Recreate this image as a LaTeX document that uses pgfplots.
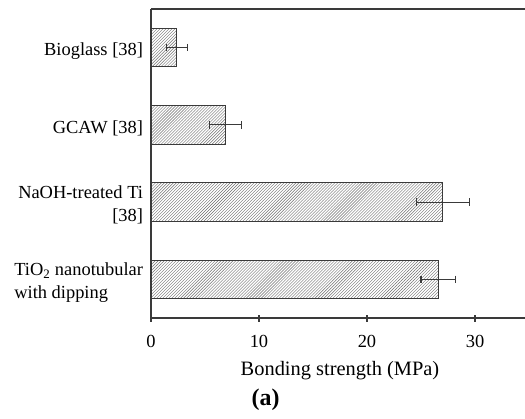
\documentclass[border=0pt]{standalone}
\usepackage{fontspec}
\setmainfont{Liberation Serif}
\usepackage{pgfplots}
\pgfplotsset{compat=1.18}
\usetikzlibrary{patterns}
\definecolor{axisgray}{HTML}{3A3A3A}
\definecolor{hatchgray}{HTML}{6E6E6E}

\begin{document}
\begin{tikzpicture}
\useasboundingbox (-151bp,-101bp) rectangle (374bp,318bp);
\begin{axis}[
    at={(0,0)}, anchor=south west,
    scale only axis,
    width=378bp, height=309bp,
    xbar,
    bar width=0.5,
    xmin=0, xmax=35,
    ymin=0.5, ymax=4.5,
    axis x line*=bottom,
    axis y line*=left,
    axis line style={axisgray, line width=1.6bp, -},
    xtick={0,10,20,30},
    ytick={1,2,3,4},
    yticklabels={
      {\begin{tabular}{@{}l@{}}TiO\textsubscript{2} nanotubular\\with dipping\end{tabular}},
      {\begin{tabular}{@{}r@{}}NaOH-treated Ti\\{[38]}\end{tabular}},
      {GCAW [38]},
      {Bioglass [38]}},
    tick align=center,
    major tick length=7bp,
    xtick style={axisgray, line width=1.2bp},
    ytick style={draw=none},
    /pgf/number format/assume math mode=true,
    tick label style={font=\fontsize{18.5}{23}\selectfont, black},
    xticklabel style={yshift=-10bp},
    yticklabel style={xshift=-1bp, yshift=-3bp},
    xlabel={Bonding strength (MPa)},
    xlabel style={font=\fontsize{20.5}{24}\selectfont, yshift=-7bp},
    clip=false,
]
\draw[axisgray, line width=1.6bp] (rel axis cs:0,1) -- (rel axis cs:1,1);
\addplot[draw=axisgray, line width=1.1bp,
    pattern=north east lines, pattern color=hatchgray,
    error bars/.cd, x dir=both, x explicit,
    error mark=|,
    error bar style={axisgray, line width=1.1bp},
    error mark options={axisgray, line width=1.1bp, mark size=3.8bp}]
coordinates {
    (26.6,1) +- (1.6,0)
    (27.0,2) +- (2.45,0)
    (6.9,3) +- (1.5,0)
    (2.4,4) +- (1.0,0)
};
\node[font=\bfseries\fontsize{24}{26}\selectfont] at (axis description cs:0.303,-0.265) {(a)};
\end{axis}
\end{tikzpicture}
\end{document}
